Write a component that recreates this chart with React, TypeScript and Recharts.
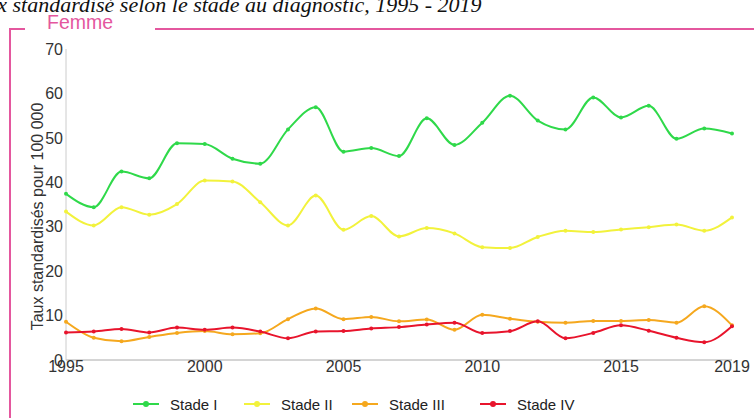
import { LineChart, Line, XAxis, YAxis } from 'recharts';

const years = [
  1995, 1996, 1997, 1998, 1999, 2000, 2001, 2002, 2003, 2004, 2005, 2006, 2007,
  2008, 2009, 2010, 2011, 2012, 2013, 2014, 2015, 2016, 2017, 2018, 2019,
];
const stadeI = [
  37.4, 34.4, 42.4, 40.9, 48.8, 48.6, 45.3, 44.2, 51.9, 56.9, 46.9, 47.7, 45.9,
  54.4, 48.4, 53.4, 59.5, 53.9, 51.9, 59.1, 54.6, 57.2, 49.8, 52.1, 51.0,
];
const stadeII = [
  33.4, 30.3, 34.4, 32.7, 35.1, 40.4, 40.2, 35.5, 30.3, 37.0, 29.3, 32.4, 27.8,
  29.7, 28.5, 25.4, 25.2, 27.7, 29.1, 28.8, 29.4, 29.9, 30.5, 29.1, 32.1,
];
const stadeIII = [
  8.6, 5.0, 4.2, 5.2, 6.1, 6.5, 5.8, 6.0, 9.2, 11.6, 9.2, 9.7, 8.7,
  9.1, 6.8, 10.2, 9.3, 8.6, 8.4, 8.8, 8.8, 9.0, 8.4, 12.1, 7.8,
];
const stadeIV = [
  6.2, 6.4, 7.0, 6.2, 7.3, 6.8, 7.3, 6.4, 4.9, 6.4, 6.5, 7.1, 7.4,
  8.0, 8.4, 6.1, 6.5, 8.7, 4.9, 6.1, 7.8, 6.6, 5.0, 4.0, 7.6,
];

const seriesNames = ['Stade I', 'Stade II', 'Stade III', 'Stade IV'];
const xTicks = [1995, 2000, 2005, 2010, 2015, 2019];
const yTicks = [0, 10, 20, 30, 40, 50, 60, 70];

const data = years.map((year, i) => ({
  year,
  s1: stadeI[i],
  s2: stadeII[i],
  s3: stadeIII[i],
  s4: stadeIV[i],
}));

const series = [
  { key: 's1', name: seriesNames[0], color: '#2fd94a' },
  { key: 's2', name: seriesNames[1], color: '#f2f23c' },
  { key: 's3', name: seriesNames[2], color: '#f5a81e' },
  { key: 's4', name: seriesNames[3], color: '#e8142c' },
];

const pink = '#e4579e';
const sans = '"Liberation Sans", Arial, sans-serif';
const legendLeft = [133, 244, 352, 480];

function YLabel(props: any) {
  const vb = props.viewBox || {};
  const x = 37;
  const y = (vb.y ?? 49) + (vb.height ?? 311) / 2 + 12;
  return (
    <text
      x={x}
      y={y}
      transform={`rotate(-90 ${x} ${y})`}
      textAnchor="middle"
      dominantBaseline="central"
      fill="#333"
      fontSize={16}
      fontFamily={sans}
    >
      Taux standardisés pour 100 000
    </text>
  );
}

export default function App() {
  return (
    <div
      style={{
        position: 'absolute',
        left: 0,
        top: 0,
        width: 754,
        height: 418,
        overflow: 'hidden',
        background: '#fff',
        fontFamily: sans,
      }}
    >
      <div
        style={{
          position: 'absolute',
          left: -35,
          top: -6,
          fontFamily: '"Liberation Serif", "Times New Roman", serif',
          fontStyle: 'italic',
          fontSize: 22,
          lineHeight: '22px',
          whiteSpace: 'nowrap',
          color: '#111',
        }}
      >
        Taux standardisé selon le stade au diagnostic, 1995 - 2019
      </div>
      {/* frame */}
      <div style={{ position: 'absolute', left: 9, top: 28, width: 16, height: 2, background: pink }} />
      <div style={{ position: 'absolute', left: 155, top: 28, width: 600, height: 2, background: pink }} />
      <div style={{ position: 'absolute', left: 9, top: 28, width: 2, height: 400, background: pink }} />
      <div
        style={{
          position: 'absolute',
          left: 47,
          top: 11,
          fontSize: 19.5,
          lineHeight: '22px',
          color: pink,
        }}
      >
        Femme
      </div>

      <div style={{ position: 'absolute', left: 0, top: 0 }}>
        <LineChart
          width={754}
          height={418}
          data={data}
          margin={{ top: 49, right: 22, left: 0, bottom: 28 }}
        >
          <XAxis
            dataKey="year"
            type="number"
            domain={[1995, 2019]}
            ticks={xTicks}
            interval={0}
            tickLine={false}
            tickSize={0}
            tickMargin={1}
            height={30}
            axisLine={{ stroke: '#aaa' }}
            tick={{ fontSize: 16, fill: '#333', fontFamily: sans }}
          />
          <YAxis
            type="number"
            domain={[0, 70]}
            ticks={yTicks}
            interval={0}
            width={66}
            tickLine={false}
            tickSize={0}
            tickMargin={3}
            axisLine={{ stroke: '#ccc' }}
            tick={{ fontSize: 16, fill: '#333', fontFamily: sans }}
            label={{ content: YLabel }}
          />
          {series.map((s) => (
            <Line
              key={s.key}
              dataKey={s.key}
              name={s.name}
              type="monotone"
              stroke={s.color}
              strokeWidth={2}
              dot={{ r: 2, fill: s.color, stroke: s.color, strokeWidth: 0 }}
              activeDot={false}
              isAnimationActive={false}
            />
          ))}
        </LineChart>
      </div>

      {series.map((s, i) => (
        <div
          key={s.key}
          style={{
            position: 'absolute',
            left: legendLeft[i],
            top: 395,
            height: 18,
            display: 'flex',
            alignItems: 'center',
            whiteSpace: 'nowrap',
          }}
        >
          <svg width={26} height={10} style={{ marginRight: 11 }}>
            <line x1={0} y1={5} x2={26} y2={5} stroke={s.color} strokeWidth={2} />
            <circle cx={13} cy={5} r={3} fill={s.color} />
          </svg>
          <span style={{ fontSize: 15, color: '#222' }}>{s.name}</span>
        </div>
      ))}
    </div>
  );
}
